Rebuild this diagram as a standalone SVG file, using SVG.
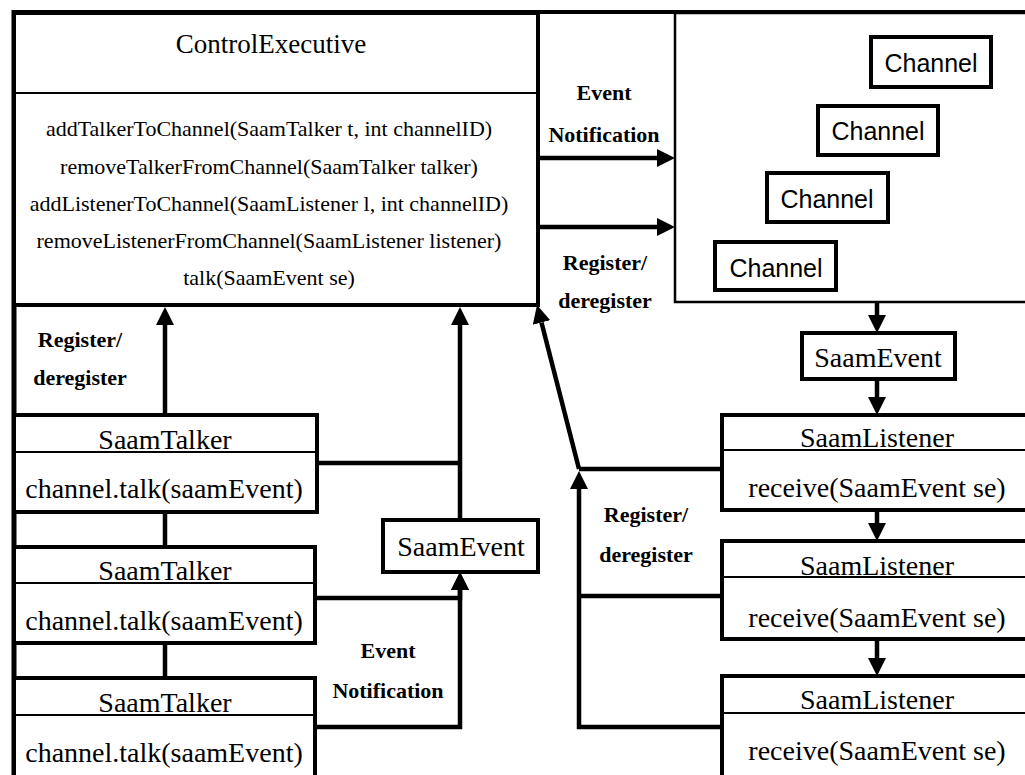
<svg xmlns="http://www.w3.org/2000/svg" width="1025" height="775" viewBox="0 0 1025 775">
<style>
.box{fill:#fff;stroke:#000;stroke-width:4}
.thin{fill:none;stroke:#000;stroke-width:2}
.con{fill:none;stroke:#000;stroke-width:4.5}
.serif{font-family:"Liberation Serif","Times New Roman",serif;fill:#000}
.sans{font-family:"Liberation Sans",Arial,sans-serif;fill:#000}
.lbl{font-family:"Liberation Serif","Times New Roman",serif;font-weight:bold;font-size:22px;fill:#000}
.big{font-size:28px}
.mid{font-size:22px}
</style>
<defs>
<marker id="ah" markerUnits="userSpaceOnUse" markerWidth="18" markerHeight="18" refX="0" refY="9" orient="auto">
<path d="M0,0 L18,9 L0,18 z" fill="#000"/>
</marker>
</defs>
<rect width="1025" height="775" fill="#fff"/>
<g id="frame">
<line x1="13" y1="12" x2="1025" y2="12" stroke="#000" stroke-width="4"/>
<line x1="14" y1="10" x2="14" y2="775" stroke="#000" stroke-width="5"/>
</g>
<g id="controlExecutive">
<rect class="box" x="14" y="13" width="524" height="292"/>
<line class="thin" x1="14" y1="93" x2="538" y2="93"/>
<text class="serif" x="271" y="53" font-size="27" text-anchor="middle">ControlExecutive</text>
<g class="serif mid" text-anchor="middle">
<text x="269" y="136">addTalkerToChannel(SaamTalker t, int channelID)</text>
<text x="269" y="174">removeTalkerFromChannel(SaamTalker talker)</text>
<text x="269" y="211">addListenerToChannel(SaamListener l, int channelID)</text>
<text x="269" y="248">removeListenerFromChannel(SaamListener listener)</text>
<text x="269" y="285">talk(SaamEvent se)</text>
</g>
</g>
<g id="channels">
<rect x="675" y="13" width="360" height="289" fill="#fff" stroke="#000" stroke-width="2.5"/>
<g id="channel1"><rect class="box" x="871" y="37" width="120" height="50" stroke-width="3.5"/><text class="sans" x="931" y="72" font-size="25" text-anchor="middle">Channel</text></g>
<g id="channel2"><rect class="box" x="818" y="106" width="120" height="49" stroke-width="3.5"/><text class="sans" x="878" y="140" font-size="25" text-anchor="middle">Channel</text></g>
<g id="channel3"><rect class="box" x="767" y="173" width="121" height="49" stroke-width="3.5"/><text class="sans" x="827" y="208" font-size="25" text-anchor="middle">Channel</text></g>
<g id="channel4"><rect class="box" x="715" y="242" width="121" height="48" stroke-width="3.5"/><text class="sans" x="776" y="277" font-size="25" text-anchor="middle">Channel</text></g>
</g>
<g id="talker1">
<rect class="box" x="14" y="415" width="303" height="97"/>
<line class="thin" x1="14" y1="452" x2="317" y2="452"/>
<text class="serif big" x="165" y="449" text-anchor="middle">SaamTalker</text>
<text class="serif big" x="164" y="498" text-anchor="middle">channel.talk(saamEvent)</text>
</g>
<g id="talker2">
<rect class="box" x="14" y="547" width="301" height="96"/>
<line class="thin" x1="14" y1="583" x2="315" y2="583"/>
<text class="serif big" x="165" y="580" text-anchor="middle">SaamTalker</text>
<text class="serif big" x="164" y="630" text-anchor="middle">channel.talk(saamEvent)</text>
</g>
<g id="talker3">
<rect class="box" x="14" y="678" width="301" height="110"/>
<line class="thin" x1="14" y1="715" x2="315" y2="715"/>
<text class="serif big" x="165" y="712" text-anchor="middle">SaamTalker</text>
<text class="serif big" x="164" y="762" text-anchor="middle">channel.talk(saamEvent)</text>
</g>
<g id="saamEventLeft">
<rect class="box" x="383" y="520" width="155" height="52" stroke-width="3.5"/>
<text class="serif big" x="461" y="556" text-anchor="middle">SaamEvent</text>
</g>
<g id="saamEventRight">
<rect class="box" x="802" y="333" width="153" height="46" stroke-width="3.5"/>
<text class="serif big" x="878" y="367" text-anchor="middle">SaamEvent</text>
</g>
<g id="listener1">
<rect class="box" x="722" y="415" width="320" height="95"/>
<line class="thin" x1="722" y1="450" x2="1042" y2="450"/>
<text class="serif big" x="877" y="447" text-anchor="middle">SaamListener</text>
<text class="serif big" x="877" y="497" text-anchor="middle">receive(SaamEvent se)</text>
</g>
<g id="listener2">
<rect class="box" x="722" y="541" width="320" height="98"/>
<line class="thin" x1="722" y1="577" x2="1042" y2="577"/>
<text class="serif big" x="877" y="575" text-anchor="middle">SaamListener</text>
<text class="serif big" x="877" y="627" text-anchor="middle">receive(SaamEvent se)</text>
</g>
<g id="listener3">
<rect class="box" x="722" y="676" width="320" height="110"/>
<line class="thin" x1="722" y1="713" x2="1042" y2="713"/>
<text class="serif big" x="877" y="709" text-anchor="middle">SaamListener</text>
<text class="serif big" x="877" y="760" text-anchor="middle">receive(SaamEvent se)</text>
</g>
<g id="connectors">
<line class="con" x1="165" y1="415" x2="165" y2="325" marker-end="url(#ah)"/>
<line class="con" x1="460" y1="520" x2="460" y2="325" marker-end="url(#ah)"/>
<line class="con" x1="317" y1="463" x2="460" y2="463"/>
<polyline class="con" points="317,598 460,598 460,590" marker-end="url(#ah)"/>
<polyline class="con" points="317,727 460,727 460,590" marker-end="url(#ah)"/>
<line class="con" x1="165" y1="512" x2="165" y2="547"/>
<line class="con" x1="165" y1="643" x2="165" y2="678"/>
<line class="con" x1="538" y1="158" x2="657" y2="158" marker-end="url(#ah)"/>
<line class="con" x1="538" y1="227" x2="657" y2="227" marker-end="url(#ah)"/>
<line class="con" x1="579" y1="469" x2="541.5" y2="322.5" marker-end="url(#ah)"/>
<polyline class="con" points="722,727 579,727 579,489" marker-end="url(#ah)"/>
<line class="con" x1="579" y1="469" x2="722" y2="469"/>
<line class="con" x1="579" y1="596" x2="722" y2="596"/>
<line class="con" x1="877" y1="302" x2="877" y2="315" marker-end="url(#ah)"/>
<line class="con" x1="877" y1="379" x2="877" y2="397" marker-end="url(#ah)"/>
<line class="con" x1="877" y1="510" x2="877" y2="523" marker-end="url(#ah)"/>
<line class="con" x1="877" y1="639" x2="877" y2="658" marker-end="url(#ah)"/>
</g>
<g id="labels" text-anchor="middle">
<text class="lbl" x="604" y="100">Event</text>
<text class="lbl" x="604" y="142">Notification</text>
<text class="lbl" x="605" y="270">Register/</text>
<text class="lbl" x="605" y="308">deregister</text>
<text class="lbl" x="80" y="347">Register/</text>
<text class="lbl" x="80" y="385">deregister</text>
<text class="lbl" x="388" y="658">Event</text>
<text class="lbl" x="388" y="698">Notification</text>
<text class="lbl" x="646" y="522">Register/</text>
<text class="lbl" x="646" y="562">deregister</text>
</g>
</svg>
